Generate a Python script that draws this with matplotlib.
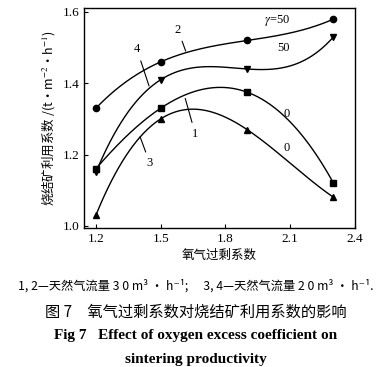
import numpy as np
import matplotlib.pyplot as plt

plt.rcParams['font.family'] = ['Liberation Serif', 'Noto Sans CJK SC', 'DejaVu Sans']
plt.rcParams['mathtext.fontset'] = 'stix'

x = [1.2, 1.5, 1.9, 2.3]
y1 = [1.16, 1.33, 1.375, 1.12]   # squares
y2 = [1.33, 1.46, 1.52, 1.58]    # circles
y3 = [1.03, 1.30, 1.27, 1.08]    # up triangles
y4 = [1.15, 1.41, 1.44, 1.53]    # down triangles

xticks = [1.2, 1.5, 1.8, 2.1, 2.4]
yticks = [1.0, 1.2, 1.4, 1.6]

fig = plt.figure(figsize=(3.91, 3.67), dpi=100)
ax = fig.add_axes([0.215, 0.379, 0.693, 0.599])

xs = np.linspace(1.2, 2.3, 200)
for yy, mk in [(y1, 's'), (y2, 'o'), (y3, '^'), (y4, 'v')]:
    c = np.polyfit(x, yy, 3)
    ax.plot(xs, np.polyval(c, xs), color='black', lw=1.0)
    ax.plot(x, yy, mk, color='black', ms=4.5, ls='none')

ax.set_xlim(1.145, 2.4)
ax.set_ylim(0.994, 1.611)
ax.set_xticks(xticks)
ax.set_yticks(yticks)
ax.set_xticklabels(['%.1f' % v for v in xticks])
ax.set_yticklabels(['%.1f' % v for v in yticks])
ax.tick_params(direction='in', length=3, labelsize=9.5, width=0.8)
for s in ax.spines.values():
    s.set_linewidth(1.0)

# curve labels with leader lines
kw = dict(fontsize=9, ha='center', va='center')
ax.annotate('2', xy=(1.62, 1.483), xytext=(1.58, 1.550),
            arrowprops=dict(arrowstyle='-', lw=0.8), **kw)
ax.annotate('4', xy=(1.45, 1.385), xytext=(1.39, 1.495),
            arrowprops=dict(arrowstyle='-', lw=0.8), **kw)
ax.annotate('1', xy=(1.61, 1.365), xytext=(1.66, 1.258),
            arrowprops=dict(arrowstyle='-', lw=0.8), **kw)
ax.annotate('3', xy=(1.40, 1.257), xytext=(1.45, 1.175),
            arrowprops=dict(arrowstyle='-', lw=0.8), **kw)
ax.text(2.04, 1.575, r'$\gamma$=50', **kw)
ax.text(2.07, 1.498, '50', **kw)
ax.text(2.085, 1.315, '0', **kw)
ax.text(2.085, 1.218, '0', **kw)

ax.set_xlabel('氧气过剩系数', family=['Noto Sans CJK SC'], fontsize=9, labelpad=3)
ax.set_ylabel('烧结矿利用系数 /(t·m$^{-2}$·h$^{-1}$)', family=['Noto Sans CJK SC', 'DejaVu Sans'],
              fontsize=9, labelpad=4)

fig.text(0.5, 1 - 286 / 367, '1, 2—天然气流量 3 0 m³ · h⁻¹;　 3, 4—天然气流量 2 0 m³ · h⁻¹.',
         family=['Noto Sans CJK SC', 'DejaVu Sans'], fontsize=8.8, ha='center', va='center')
fig.text(0.5, 1 - 312 / 367, '图 7　氧气过剩系数对烧结矿利用系数的影响',
         family=['Noto Sans CJK SC'], fontsize=11, ha='center', va='center')
fig.text(0.5, 1 - 336 / 367, 'Fig 7   Effect of oxygen excess coefficient on',
         fontsize=11, weight='bold', ha='center', va='center')
fig.text(0.5, 1 - 359 / 367, 'sintering productivity',
         fontsize=11, weight='bold', ha='center', va='center')

fig.savefig('out.png', dpi=100)
